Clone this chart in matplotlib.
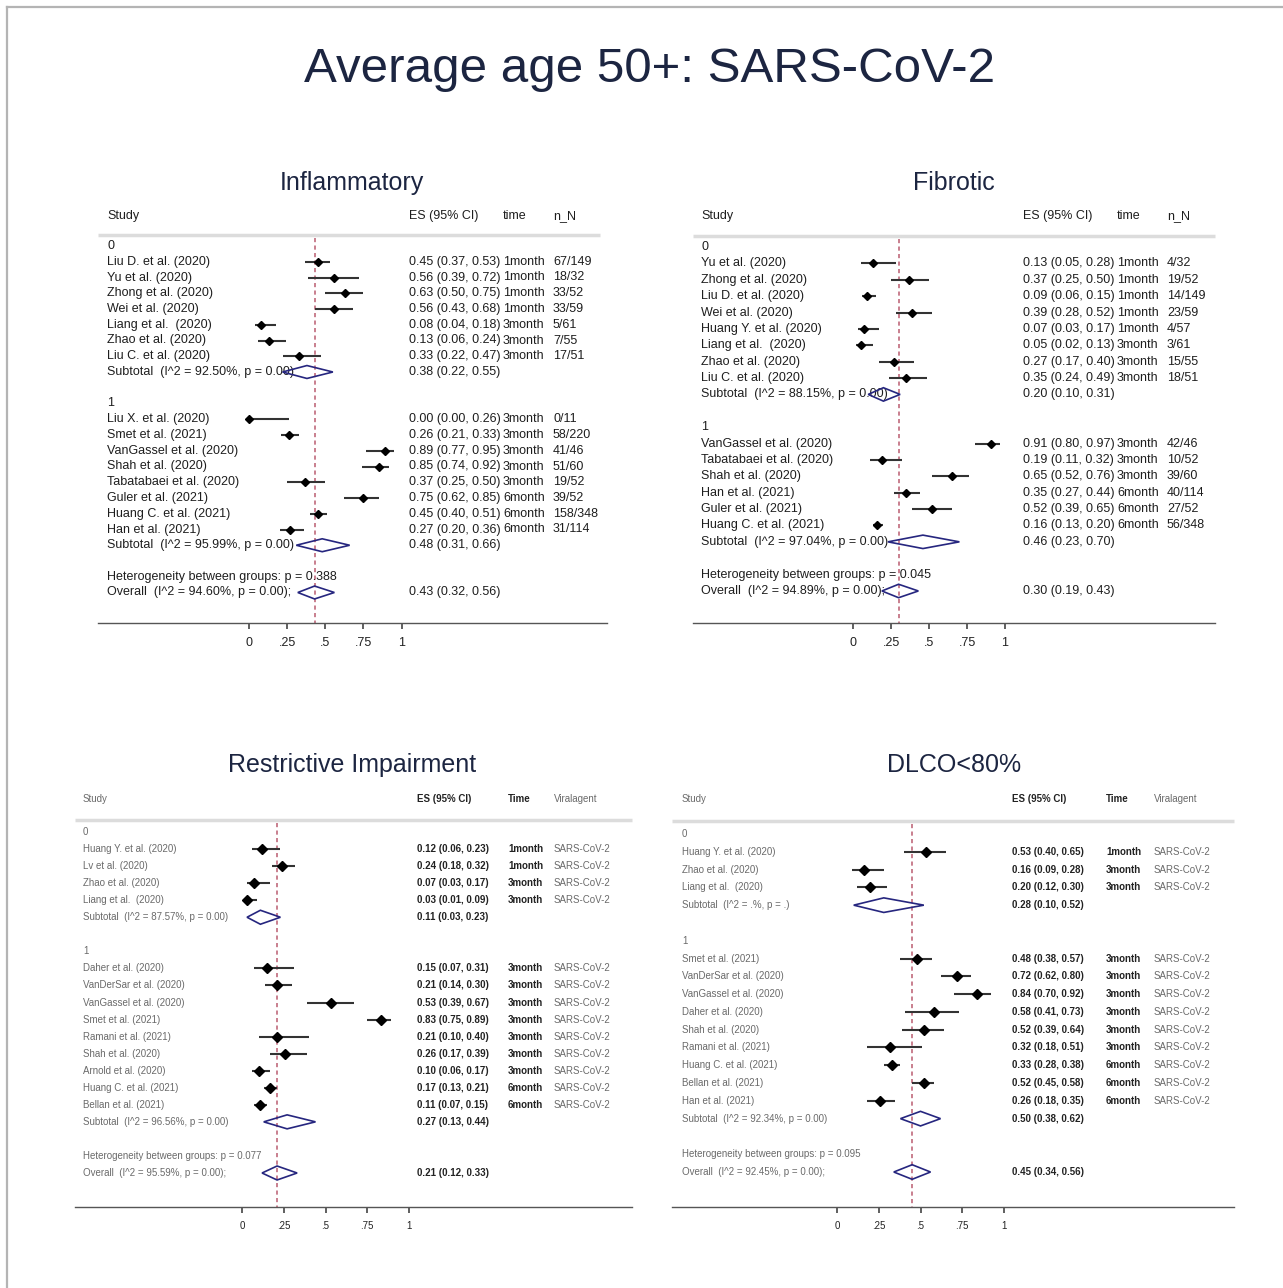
import matplotlib.pyplot as plt
from matplotlib.patches import Polygon
from matplotlib.lines import Line2D

plt.rcParams['font.family'] = ['Liberation Sans', 'DejaVu Sans']

W, H = 1283, 1288

# ---------------- Inflammatory ----------------
infl_names0 = ["Liu D. et al. (2020)", "Yu et al. (2020)", "Zhong et al. (2020)", "Wei et al. (2020)",
               "Liang et al.  (2020)", "Zhao et al. (2020)", "Liu C. et al. (2020)"]
infl_es0 = [0.45, 0.56, 0.63, 0.56, 0.08, 0.13, 0.33]
infl_lo0 = [0.37, 0.39, 0.50, 0.43, 0.04, 0.06, 0.22]
infl_hi0 = [0.53, 0.72, 0.75, 0.68, 0.18, 0.24, 0.47]
infl_time0 = ["1month"] * 4 + ["3month"] * 3
infl_nN0 = ["67/149", "18/32", "33/52", "33/59", "5/61", "7/55", "17/51"]
infl_names1 = ["Liu X. et al. (2020)", "Smet et al. (2021)", "VanGassel et al. (2020)", "Shah et al. (2020)",
               "Tabatabaei et al. (2020)", "Guler et al. (2021)", "Huang C. et al. (2021)", "Han et al. (2021)"]
infl_es1 = [0.00, 0.26, 0.89, 0.85, 0.37, 0.75, 0.45, 0.27]
infl_lo1 = [0.00, 0.21, 0.77, 0.74, 0.25, 0.62, 0.40, 0.20]
infl_hi1 = [0.26, 0.33, 0.95, 0.92, 0.50, 0.85, 0.51, 0.36]
infl_time1 = ["3month"] * 5 + ["6month"] * 3
infl_nN1 = ["0/11", "58/220", "41/46", "51/60", "19/52", "39/52", "158/348", "31/114"]
infl_sub = [(0.38, 0.22, 0.55), (0.48, 0.31, 0.66)]
infl_sub_txt = ["92.50%, p = 0.00", "95.99%, p = 0.00"]
infl_overall = (0.43, 0.32, 0.56)
infl_overall_txt = "94.60%, p = 0.00"
infl_het = "0.388"

# ---------------- Fibrotic ----------------
fib_names0 = ["Yu et al. (2020)", "Zhong et al. (2020)", "Liu D. et al. (2020)", "Wei et al. (2020)",
              "Huang Y. et al. (2020)", "Liang et al.  (2020)", "Zhao et al. (2020)", "Liu C. et al. (2020)"]
fib_es0 = [0.13, 0.37, 0.09, 0.39, 0.07, 0.05, 0.27, 0.35]
fib_lo0 = [0.05, 0.25, 0.06, 0.28, 0.03, 0.02, 0.17, 0.24]
fib_hi0 = [0.28, 0.50, 0.15, 0.52, 0.17, 0.13, 0.40, 0.49]
fib_time0 = ["1month"] * 5 + ["3month"] * 3
fib_nN0 = ["4/32", "19/52", "14/149", "23/59", "4/57", "3/61", "15/55", "18/51"]
fib_names1 = ["VanGassel et al. (2020)", "Tabatabaei et al. (2020)", "Shah et al. (2020)", "Han et al. (2021)",
              "Guler et al. (2021)", "Huang C. et al. (2021)"]
fib_es1 = [0.91, 0.19, 0.65, 0.35, 0.52, 0.16]
fib_lo1 = [0.80, 0.11, 0.52, 0.27, 0.39, 0.13]
fib_hi1 = [0.97, 0.32, 0.76, 0.44, 0.65, 0.20]
fib_time1 = ["3month"] * 3 + ["6month"] * 3
fib_nN1 = ["42/46", "10/52", "39/60", "40/114", "27/52", "56/348"]
fib_sub = [(0.20, 0.10, 0.31), (0.46, 0.23, 0.70)]
fib_sub_txt = ["88.15%, p = 0.00", "97.04%, p = 0.00"]
fib_overall = (0.30, 0.19, 0.43)
fib_overall_txt = "94.89%, p = 0.00"
fib_het = "0.045"

# ---------------- Restrictive Impairment ----------------
ri_names0 = ["Huang Y. et al. (2020)", "Lv et al. (2020)", "Zhao et al. (2020)", "Liang et al.  (2020)"]
ri_es0 = [0.12, 0.24, 0.07, 0.03]
ri_lo0 = [0.06, 0.18, 0.03, 0.01]
ri_hi0 = [0.23, 0.32, 0.17, 0.09]
ri_time0 = ["1month", "1month", "3month", "3month"]
ri_names1 = ["Daher et al. (2020)", "VanDerSar et al. (2020)", "VanGassel et al. (2020)", "Smet et al. (2021)",
             "Ramani et al. (2021)", "Shah et al. (2020)", "Arnold et al. (2020)", "Huang C. et al. (2021)",
             "Bellan et al. (2021)"]
ri_es1 = [0.15, 0.21, 0.53, 0.83, 0.21, 0.26, 0.10, 0.17, 0.11]
ri_lo1 = [0.07, 0.14, 0.39, 0.75, 0.10, 0.17, 0.06, 0.13, 0.07]
ri_hi1 = [0.31, 0.30, 0.67, 0.89, 0.40, 0.39, 0.17, 0.21, 0.15]
ri_time1 = ["3month"] * 7 + ["6month"] * 2
ri_sub = [(0.11, 0.03, 0.23), (0.27, 0.13, 0.44)]
ri_sub_txt = ["87.57%, p = 0.00", "96.56%, p = 0.00"]
ri_overall = (0.21, 0.12, 0.33)
ri_overall_txt = "95.59%, p = 0.00"
ri_het = "0.077"

# ---------------- DLCO<80% ----------------
dl_names0 = ["Huang Y. et al. (2020)", "Zhao et al. (2020)", "Liang et al.  (2020)"]
dl_es0 = [0.53, 0.16, 0.20]
dl_lo0 = [0.40, 0.09, 0.12]
dl_hi0 = [0.65, 0.28, 0.30]
dl_time0 = ["1month", "3month", "3month"]
dl_names1 = ["Smet et al. (2021)", "VanDerSar et al. (2020)", "VanGassel et al. (2020)", "Daher et al. (2020)",
             "Shah et al. (2020)", "Ramani et al. (2021)", "Huang C. et al. (2021)", "Bellan et al. (2021)",
             "Han et al. (2021)"]
dl_es1 = [0.48, 0.72, 0.84, 0.58, 0.52, 0.32, 0.33, 0.52, 0.26]
dl_lo1 = [0.38, 0.62, 0.70, 0.41, 0.39, 0.18, 0.28, 0.45, 0.18]
dl_hi1 = [0.57, 0.80, 0.92, 0.73, 0.64, 0.51, 0.38, 0.58, 0.35]
dl_time1 = ["3month"] * 6 + ["6month"] * 3
dl_sub = [(0.28, 0.10, 0.52), (0.50, 0.38, 0.62)]
dl_sub_txt = [".%, p = .", "92.34%, p = 0.00"]
dl_overall = (0.45, 0.34, 0.56)
dl_overall_txt = "92.45%, p = 0.00"
dl_het = "0.095"

agent = "SARS-CoV-2"
ticks = [0, 0.25, 0.5, 0.75, 1]
tick_labels = ["0", ".25", ".5", ".75", "1"]

fig = plt.figure(figsize=(W / 100, H / 100), dpi=100)
fig.patch.set_facecolor('white')

fig.add_artist(Line2D([7 / W, 7 / W], [0, 1 - 7 / H], color='#b4b4b4', lw=1.6))
fig.add_artist(Line2D([7 / W, 1], [1 - 7 / H, 1 - 7 / H], color='#b4b4b4', lw=1.6))
fig.text(650 / W, 1 - 69 / H, "Average age 50+: SARS-CoV-2", ha='center', va='center',
         fontsize=35.5, color='#1c2541')


def fmt(t):
    return "%.2f (%.2f, %.2f)" % t


def draw_panel(title, lay, groups, subs, sub_txt, overall, overall_txt, het, headers, small):
    left, right, top, axis_y = lay['left'], lay['right'], lay['top'], lay['axis_y']
    x0, sc, row0, step = lay['x0'], lay['scale'], lay['row0'], lay['step']

    def xd(px):
        return (px - x0) / sc

    def yd(py):
        return (py - row0) / step

    ax = fig.add_axes([left / W, 1 - axis_y / H, (right - left) / W, (axis_y - top) / H])
    ax.set_xlim(xd(left), xd(right))
    ax.set_ylim(yd(axis_y), yd(top))
    for s in ['top', 'left', 'right']:
        ax.spines[s].set_visible(False)
    ax.spines['bottom'].set_color('#555555')
    ax.spines['bottom'].set_linewidth(1.0)
    ax.set_yticks([])
    ax.set_xticks(ticks)
    ax.set_xticklabels(tick_labels)
    fs = 7 if small else 9
    ax.tick_params(axis='x', direction='out', length=4, width=1.2, color='#444444',
                   labelsize=fs, pad=6, labelcolor='#222222')

    fig.text(lay['tx'] / W, 1 - lay['ty'] / H, title, ha='center', va='center', fontsize=18, color='#1c2541')

    c_study, c_es, c_time, c_extra = [xd(p) for p in lay['cols']]
    if small:
        name_kw = dict(fontsize=fs, color='#6a6a6a')
        es_kw = dict(fontsize=fs, color='#222222', fontweight='bold')
        time_kw = es_kw
        extra_kw = name_kw
    else:
        name_kw = dict(fontsize=fs, color='#1e1e1e')
        es_kw = name_kw
        time_kw = name_kw
        extra_kw = name_kw

    hy = yd(lay['header_y'])
    ax.text(c_study, hy, headers[0], va='center', **name_kw)
    ax.text(c_es, hy, headers[1], va='center', **es_kw)
    ax.text(c_time, hy, headers[2], va='center', **time_kw)
    ax.text(c_extra, hy, headers[3], va='center', **extra_kw)
    ax.plot([xd(left), xd(lay['hline_right'])], [yd(lay['hline_y'])] * 2, color='#dcdcdc', lw=2.5,
            solid_capstyle='butt', clip_on=False)

    ms = 5 if small else 4.5
    r = 0
    for gi, g in enumerate(groups):
        names, es, lo, hi, times, extra = g
        ax.text(c_study, r, str(gi), va='center', **name_kw)
        r += 1
        for i in range(len(names)):
            ax.plot([lo[i], hi[i]], [r, r], color='#333333', lw=1.5, solid_capstyle='butt', zorder=3)
            ax.plot(es[i], r, marker='D', ms=ms, color='black', zorder=4)
            ax.text(c_study, r, names[i], va='center', **name_kw)
            ax.text(c_es, r, fmt((es[i], lo[i], hi[i])), va='center', **es_kw)
            ax.text(c_time, r, times[i], va='center', **time_kw)
            ax.text(c_extra, r, extra[i], va='center', **extra_kw)
            r += 1
        m, a, b = subs[gi]
        ax.add_patch(Polygon([(a, r), (m, r - 0.41), (b, r), (m, r + 0.41)], closed=True, fill=False,
                             edgecolor='#26267f', lw=1.2, zorder=5))
        ax.text(c_study, r, "Subtotal  (I^2 = %s)" % sub_txt[gi], va='center', **name_kw)
        ax.text(c_es, r, fmt(subs[gi]), va='center', **es_kw)
        r += 2
    ax.text(c_study, r, "Heterogeneity between groups: p = %s" % het, va='center', **name_kw)
    r += 1
    m, a, b = overall
    ax.add_patch(Polygon([(a, r), (m, r - 0.41), (b, r), (m, r + 0.41)], closed=True, fill=False,
                         edgecolor='#26267f', lw=1.2, zorder=5))
    ax.text(c_study, r, "Overall  (I^2 = %s);" % overall_txt, va='center', **name_kw)
    ax.text(c_es, r, fmt(overall), va='center', **es_kw)

    ax.plot([m, m], [yd(lay['hline_y'] + 3), yd(axis_y)], color='#c06a7c', lw=1.2,
            linestyle=(0, (2.5, 2.0)), zorder=2)


lay1 = dict(left=98, right=607, top=200, axis_y=623, x0=249, scale=152.5, row0=246, step=15.75,
            header_y=216, hline_y=235, hline_right=600, cols=(107, 409, 503, 553), tx=352, ty=183)
lay2 = dict(left=693, right=1215, top=200, axis_y=623, x0=853, scale=152, row0=247, step=16.38,
            header_y=216, hline_y=236, hline_right=1215, cols=(701, 1023, 1117, 1167), tx=954, ty=183)
lay3 = dict(left=75, right=632, top=785, axis_y=1207, x0=242, scale=167, row0=832, step=17.05,
            header_y=799, hline_y=820, hline_right=632, cols=(83, 417, 508, 554), tx=352, ty=765)
lay4 = dict(left=672, right=1234, top=785, axis_y=1207, x0=837, scale=167, row0=834, step=17.79,
            header_y=799, hline_y=821, hline_right=1234, cols=(682, 1012, 1106, 1154), tx=954, ty=765)

draw_panel("Inflammatory", lay1,
           [(infl_names0, infl_es0, infl_lo0, infl_hi0, infl_time0, infl_nN0),
            (infl_names1, infl_es1, infl_lo1, infl_hi1, infl_time1, infl_nN1)],
           infl_sub, infl_sub_txt, infl_overall, infl_overall_txt, infl_het,
           ("Study", "ES (95% CI)", "time", "n_N"), False)
draw_panel("Fibrotic", lay2,
           [(fib_names0, fib_es0, fib_lo0, fib_hi0, fib_time0, fib_nN0),
            (fib_names1, fib_es1, fib_lo1, fib_hi1, fib_time1, fib_nN1)],
           fib_sub, fib_sub_txt, fib_overall, fib_overall_txt, fib_het,
           ("Study", "ES (95% CI)", "time", "n_N"), False)
draw_panel("Restrictive Impairment", lay3,
           [(ri_names0, ri_es0, ri_lo0, ri_hi0, ri_time0, [agent] * len(ri_names0)),
            (ri_names1, ri_es1, ri_lo1, ri_hi1, ri_time1, [agent] * len(ri_names1))],
           ri_sub, ri_sub_txt, ri_overall, ri_overall_txt, ri_het,
           ("Study", "ES (95% CI)", "Time", "Viralagent"), True)
draw_panel("DLCO<80%", lay4,
           [(dl_names0, dl_es0, dl_lo0, dl_hi0, dl_time0, [agent] * len(dl_names0)),
            (dl_names1, dl_es1, dl_lo1, dl_hi1, dl_time1, [agent] * len(dl_names1))],
           dl_sub, dl_sub_txt, dl_overall, dl_overall_txt, dl_het,
           ("Study", "ES (95% CI)", "Time", "Viralagent"), True)

fig.savefig("out.png", dpi=100, facecolor='white')
